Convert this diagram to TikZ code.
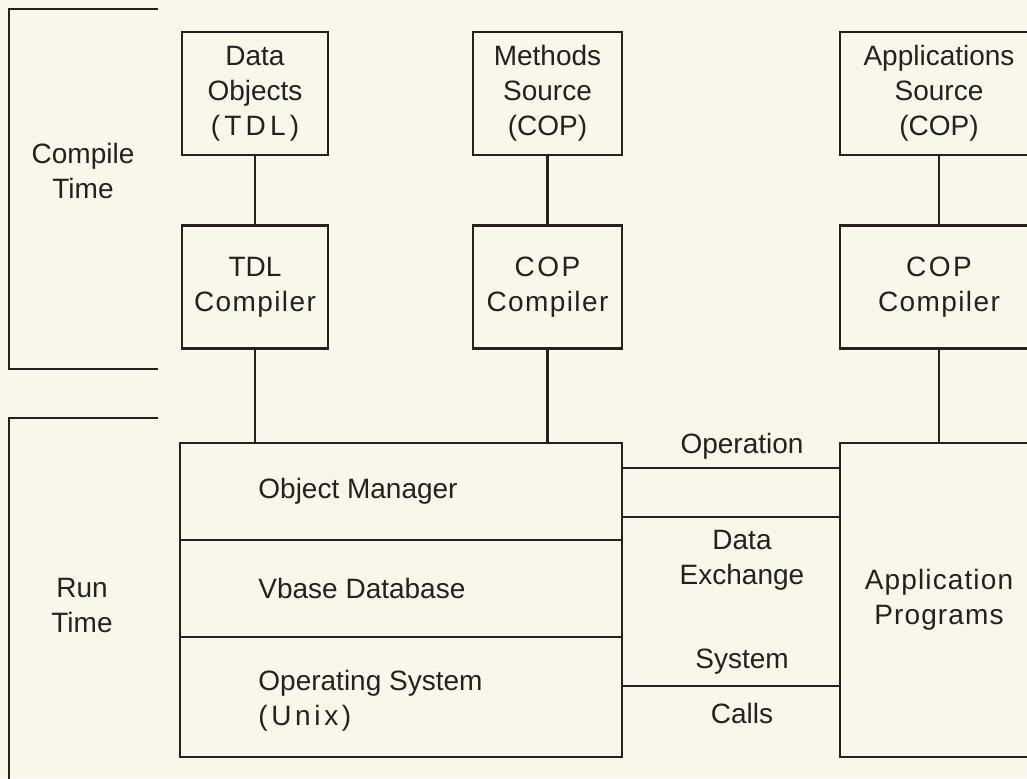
\documentclass[tikz,border=0pt]{standalone}
\usepackage{fontspec}
\setmainfont{Liberation Sans}
\definecolor{ink}{RGB}{38,32,30}
\definecolor{paper}{RGB}{247,247,236}
\newcommand{\trk}[2]{{\addfontfeature{LetterSpace=#1}#2}}
\tikzstyle{bx}=[rectangle,draw=ink,fill=paper,line width=1.4pt,
  align=center,inner sep=2pt,minimum height=61.5pt]
\tikzstyle{lbl}=[align=center,inner sep=0pt]
\tikzstyle{none}=[]

\begin{document}
\begin{tikzpicture}[x=0.5pt,y=-0.5pt,line width=1.4pt,color=ink,
    font=\fontsize{14pt}{17.5pt}\selectfont]
            \useasboundingbox (0,0) rectangle (1027,778);
            \fill [paper] (0,0) rectangle (1027,778);
            \clip (0,0) rectangle (1027,778);
            % compile time
            \node [style=bx, minimum width=73pt] (1) at (255, 93.5) {Data\\Objects\\\trk{15}{(TDL)}};
            \node [style=bx, minimum width=74.5pt] (2) at (547.5, 93.5) {Methods\\Source\\(COP)};
            \node [style=bx, minimum width=99pt] (3) at (939, 93.5) {Applications\\Source\\(COP)};
            \node [style=bx, minimum width=73pt] (4) at (255, 287) {TDL\\\trk{5}{Compiler}};
            \node [style=bx, minimum width=74.5pt] (5) at (547.5, 287) {\trk{9}{COP}\\\trk{5}{Compiler}};
            \node [style=bx, minimum width=99pt] (6) at (939, 287) {\trk{9}{COP}\\\trk{5}{Compiler}};
            % run time
            \node [style=bx, minimum width=221pt, minimum height=48.5pt] (7) at (401, 491.5) {};
            \node [style=bx, minimum width=221pt, minimum height=48.5pt] (8) at (401, 588.5) {};
            \node [style=bx, minimum width=221pt, minimum height=60pt] (9) at (401, 697) {};
            \node [style=bx, minimum width=99pt, minimum height=157pt] (10) at (939, 600) {\trk{4}{Application}\\\trk{4}{Programs}};
            \node [style=lbl, anchor=west, align=left] (11) at (257, 491.5) {Object Manager};
            \node [style=lbl, anchor=west, align=left] (12) at (257, 588.5) {Vbase Database};
            \node [style=lbl, anchor=west, align=left] (13) at (257, 701) {Operating System\\\trk{13}{(Unix)}};
            \node [style=none] (20) at (622, 468) {};
            \node [style=none] (21) at (840, 468) {};
            \node [style=none] (22) at (622, 517) {};
            \node [style=none] (23) at (840, 517) {};
            \node [style=none] (24) at (622, 686) {};
            \node [style=none] (25) at (840, 686) {};
            \node [style=lbl] (26) at (742, 446) {Operation};
            \node [style=lbl] (27) at (742, 560) {Data\\Exchange};
            \node [style=lbl] (28) at (742, 662) {System};
            \node [style=lbl] (29) at (742, 713) {Calls};
            % brackets
            \node [style=lbl] (14) at (83, 171) {Compile\\Time};
            \node [style=lbl] (15) at (82, 605) {Run\\Time};
            \draw (158, 9) -- (9, 9) -- (9, 369) -- (158, 369);
            \draw (158, 418) -- (9, 418) -- (9, 790);
            \draw (1) to (4);
            \draw (2) to (5);
            \draw (3) to (6);
            \draw (4) to (4 |- 7.north);
            \draw (5) to (5 |- 7.north);
            \draw (6) to (10);
            \draw (20.center) to (21.center);
            \draw (22.center) to (23.center);
            \draw (24.center) to (25.center);
    \end{tikzpicture}
\end{document}
